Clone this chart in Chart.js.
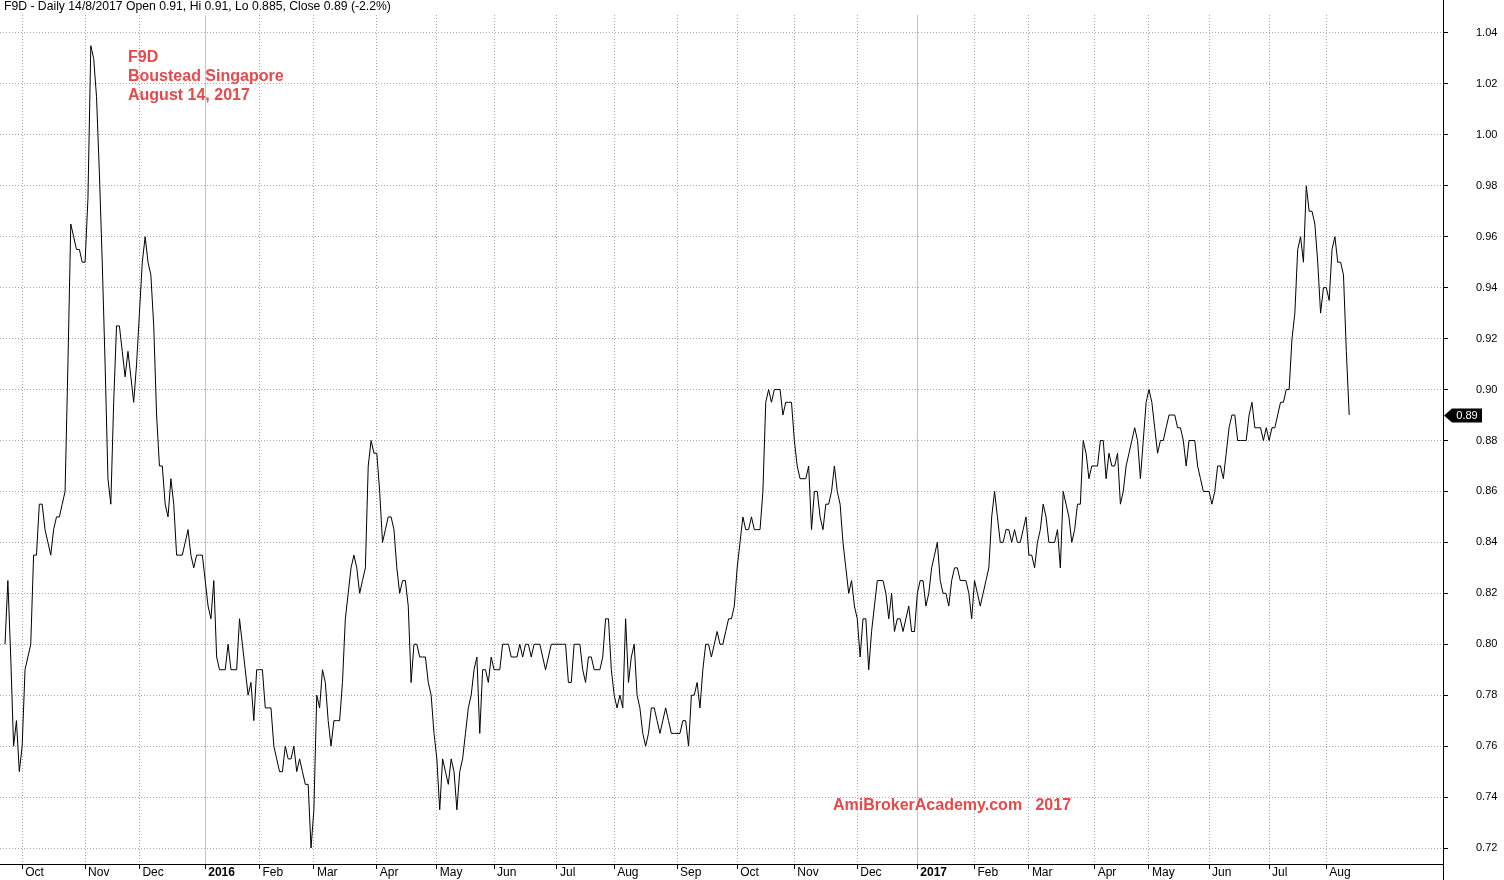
<!DOCTYPE html>
<html><head><meta charset="utf-8">
<script src="https://cdn.jsdelivr.net/npm/chart.js@4.4.1/dist/chart.umd.min.js"></script>
<style>html,body{margin:0;padding:0;background:#fff;overflow:hidden}canvas{display:block}</style>
</head><body>
<canvas id="c" width="1504" height="880"></canvas>
<script>
// Daily closing prices, one per trading day (index = trading day number)
const closePrice = [
0.80,0.825,0.795,0.76,0.77,0.75,0.76,0.79,0.795,0.80,
0.835,0.835,0.855,0.855,0.845,0.84,0.835,0.845,0.85,0.85,
0.855,0.86,0.91,0.965,0.96,0.955,0.955,0.95,0.95,0.975,
1.035,1.03,1.015,0.985,0.95,0.91,0.865,0.855,0.895,0.925,
0.925,0.915,0.905,0.915,0.905,0.895,0.91,0.93,0.95,0.96,
0.95,0.945,0.925,0.89,0.87,0.87,0.855,0.85,0.865,0.855,
0.835,0.835,0.835,0.84,0.845,0.835,0.83,0.835,0.835,0.835,
0.825,0.815,0.81,0.825,0.795,0.79,0.79,0.79,0.80,0.79,
0.79,0.79,0.81,0.80,0.79,0.78,0.785,0.77,0.79,0.79,
0.79,0.775,0.775,0.775,0.76,0.755,0.75,0.75,0.76,0.755,
0.755,0.76,0.75,0.755,0.75,0.745,0.745,0.72,0.735,0.78,
0.775,0.79,0.785,0.77,0.76,0.77,0.77,0.77,0.785,0.81,
0.82,0.83,0.835,0.83,0.82,0.825,0.83,0.87,0.88,0.875,
0.875,0.86,0.84,0.845,0.85,0.85,0.845,0.83,0.82,0.825,
0.825,0.815,0.785,0.80,0.80,0.795,0.795,0.795,0.785,0.78,
0.765,0.755,0.735,0.755,0.75,0.745,0.755,0.75,0.735,0.75,
0.755,0.765,0.775,0.78,0.79,0.795,0.765,0.79,0.79,0.785,
0.795,0.79,0.79,0.79,0.80,0.80,0.80,0.795,0.795,0.795,
0.80,0.795,0.80,0.80,0.795,0.80,0.80,0.80,0.795,0.79,
0.795,0.80,0.80,0.80,0.80,0.80,0.80,0.785,0.785,0.80,
0.80,0.80,0.79,0.785,0.795,0.795,0.79,0.79,0.79,0.795,
0.81,0.81,0.79,0.78,0.775,0.78,0.775,0.81,0.785,0.795,
0.80,0.78,0.775,0.765,0.76,0.765,0.775,0.775,0.77,0.765,
0.77,0.775,0.77,0.765,0.765,0.765,0.765,0.77,0.77,0.76,
0.78,0.78,0.785,0.775,0.79,0.80,0.80,0.795,0.80,0.805,
0.80,0.80,0.805,0.81,0.81,0.815,0.83,0.84,0.85,0.845,
0.845,0.85,0.845,0.845,0.845,0.86,0.895,0.90,0.895,0.90,
0.90,0.90,0.89,0.895,0.895,0.895,0.88,0.87,0.865,0.865,
0.865,0.87,0.845,0.86,0.86,0.85,0.845,0.855,0.855,0.86,
0.87,0.86,0.855,0.84,0.83,0.82,0.825,0.815,0.81,0.795,
0.81,0.81,0.79,0.805,0.815,0.825,0.825,0.825,0.82,0.81,
0.82,0.805,0.81,0.81,0.805,0.81,0.815,0.805,0.805,0.82,
0.825,0.825,0.815,0.82,0.83,0.835,0.84,0.825,0.82,0.82,
0.815,0.825,0.83,0.83,0.825,0.825,0.825,0.82,0.81,0.825,
0.82,0.815,0.82,0.825,0.83,0.85,0.86,0.85,0.84,0.84,
0.845,0.845,0.84,0.845,0.84,0.84,0.845,0.85,0.835,0.835,
0.83,0.84,0.845,0.855,0.85,0.84,0.84,0.84,0.845,0.83,
0.86,0.855,0.85,0.84,0.845,0.855,0.855,0.88,0.875,0.865,
0.87,0.87,0.87,0.88,0.88,0.865,0.875,0.87,0.87,0.875,
0.855,0.86,0.87,0.875,0.88,0.885,0.88,0.865,0.88,0.895,
0.90,0.895,0.885,0.875,0.88,0.88,0.885,0.89,0.89,0.89,
0.885,0.885,0.88,0.87,0.88,0.88,0.88,0.87,0.865,0.86,
0.86,0.86,0.855,0.86,0.87,0.87,0.865,0.875,0.885,0.89,
0.89,0.88,0.88,0.88,0.88,0.89,0.895,0.885,0.885,0.885,
0.88,0.885,0.88,0.885,0.885,0.89,0.895,0.895,0.90,0.90,
0.92,0.93,0.955,0.96,0.95,0.98,0.97,0.97,0.965,0.95,
0.93,0.94,0.94,0.935,0.955,0.96,0.95,0.95,0.945,0.915,0.89
];
// Month labels and the trading day on which each month starts
const monthLabels = ['Oct','Nov','Dec','2016','Feb','Mar','Apr','May','Jun','Jul','Aug','Sep',
                     'Oct','Nov','Dec','2017','Feb','Mar','Apr','May','Jun','Jul','Aug'];
const monthStartDay = [6,28,47,70,89,108,130,151,171,193,213,235,256,276,298,319,339,358,381,400,421,442,462];
const yearLabels = ['2016','2017'];
const priceTicks = [0.72,0.74,0.76,0.78,0.80,0.82,0.84,0.86,0.88,0.90,0.92,0.94,0.96,0.98,1.00,1.02,1.04];
const headerText = 'F9D - Daily 14/8/2017 Open 0.91, Hi 0.91, Lo 0.885, Close 0.89 (-2.2%)';
const noteLines = ['F9D','Boustead Singapore','August 14, 2017'];
const footerNote = 'AmiBrokerAcademy.com   2017';

const RED = 'rgb(232,72,72)';
const FONT = '"Liberation Sans", Arial, sans-serif';
const isYear = i => i !== undefined && yearLabels.includes(monthLabels[i]);

const overlay = {
  id: 'overlay',
  afterDraw(chart) {
    const {ctx, chartArea: a, scales: {y}} = chart;
    ctx.save();
    const rx = Math.round(a.right) + 0.5;
    ctx.strokeStyle = '#000'; ctx.lineWidth = 1;
    ctx.beginPath(); ctx.moveTo(rx, 0); ctx.lineTo(rx, chart.height); ctx.stroke();
    ctx.fillStyle = '#000'; ctx.font = '12.2px ' + FONT; ctx.textBaseline = 'middle'; ctx.textAlign = 'left';
    ctx.fillText(headerText, 4, 7);
    ctx.fillStyle = RED; ctx.font = 'bold 16px ' + FONT;
    noteLines.forEach((t, i) => ctx.fillText(t, 128, 58 + i * 19));
    ctx.fillText(footerNote, 833, 806);
    const last = closePrice[closePrice.length - 1];
    const py = Math.round(y.getPixelForValue(last)) + 0.5;
    const ax = Math.round(a.right) + 1;
    ctx.fillStyle = '#000';
    ctx.beginPath();
    ctx.moveTo(ax, py); ctx.lineTo(ax + 8, py - 7); ctx.lineTo(ax + 38, py - 7);
    ctx.lineTo(ax + 38, py + 7); ctx.lineTo(ax + 8, py + 7); ctx.closePath(); ctx.fill();
    ctx.fillStyle = '#fff'; ctx.font = '11px ' + FONT; ctx.textAlign = 'center';
    ctx.fillText(last.toFixed(2), ax + 23, py + 0.5);
    ctx.restore();
  }
};

new Chart(document.getElementById('c'), {
  type: 'line',
  data: {
    datasets: [{
      data: closePrice.map((v, i) => ({x: i, y: v})),
      borderColor: '#000', borderWidth: 1, pointRadius: 0, tension: 0, fill: false
    }]
  },
  options: {
    responsive: false, animation: false, devicePixelRatio: 1, events: [],
    layout: {padding: {top: 15, left: 0, right: 0, bottom: 0}},
    plugins: {legend: {display: false}, tooltip: {enabled: false}, title: {display: false}},
    scales: {
      x: {
        type: 'linear', bounds: 'data', min: -1.75, max: 502.8,
        afterBuildTicks: s => { s.ticks = monthStartDay.map(v => ({value: v})); },
        afterFit: s => { s.height = 16; s.paddingLeft = 0; s.paddingRight = 0; },
        grid: {
          color: c => isYear(c.index) ? '#c4c4c4' : '#a8a8a8',
          lineWidth: 1, tickLength: 5, tickColor: '#000', tickBorderDash: [], drawTicks: true
        },
        border: {display: true, color: '#000', width: 1, dash: c => isYear(c.index) ? [] : [1, 2]},
        ticks: {
          autoSkip: false, maxRotation: 0, minRotation: 0, align: 'start', labelOffset: 3, padding: -4,
          color: '#000',
          font: c => ({family: FONT, size: 12, weight: isYear(c.index) ? 'bold' : 'normal'}),
          callback: (v, i) => monthLabels[i]
        }
      },
      y: {
        position: 'right', bounds: 'data', min: 0.713726, max: 1.047059,
        afterBuildTicks: s => { s.ticks = priceTicks.map(v => ({value: v})); },
        afterFit: s => { s.width = 61; s.paddingTop = 0; s.paddingBottom = 0; },
        grid: {color: '#a8a8a8', lineWidth: 1, tickLength: 5, tickColor: '#000', tickBorderDash: []},
        border: {display: false, dash: [1, 2]},
        ticks: {padding: 28, color: '#000', font: {family: FONT, size: 11}, callback: v => v.toFixed(2)}
      }
    }
  },
  plugins: [overlay]
});
</script>
</body></html>
